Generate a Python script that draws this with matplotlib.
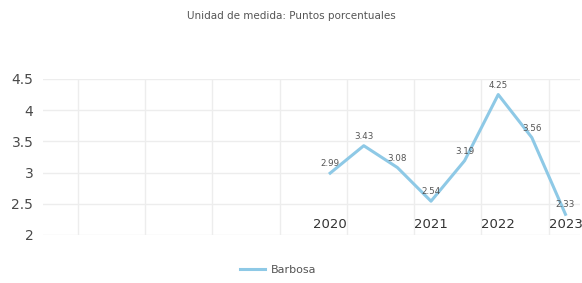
import matplotlib.pyplot as plt

# data
periods = list(range(8))
values = [2.99, 3.43, 3.08, 2.54, 3.19, 4.25, 3.56, 2.33]
value_labels = ["2.99", "3.43", "3.08", "2.54", "3.19", "4.25", "3.56", "2.33"]
year_pos = [0, 3, 5, 7]
year_labels = ["2020", "2021", "2022", "2023"]
yticks = [2, 2.5, 3, 3.5, 4, 4.5]
ytick_labels = ["2", "2.5", "3", "3.5", "4", "4.5"]
series_name = "Barbosa"

line_color = "#8ec9e6"
grid_color = "#ededed"
text_color = "#4a4a4a"

fig = plt.figure(figsize=(5.82, 2.83), dpi=100)
ax = fig.add_axes([0.074, 0.170, 0.923, 0.551])

ax.plot(periods, values, color=line_color, lw=2.2, label=series_name, zorder=3)
for x, v, s in zip(periods, values, value_labels):
    ax.annotate(s, (x, v), xytext=(0, 3.5), textcoords="offset points",
                ha="center", va="bottom", fontsize=6.3, color="#555555", zorder=4)

ax.set_xlim(-8.54, 7.44)
ax.set_ylim(2, 4.5)

# vertical grid lines sit between the points
for gx in [-7.5, -5.5, -3.5, -1.5, 0.5, 2.5, 4.5, 6.5]:
    ax.axvline(gx, color=grid_color, lw=1, zorder=1)
for gy in yticks:
    ax.axhline(gy, color=grid_color, lw=1, zorder=1)

ax.set_yticks(yticks)
ax.set_yticklabels(ytick_labels, fontsize=10, color=text_color)
ax.set_xticks(year_pos)
ax.set_xticklabels(year_labels, fontsize=9.5, color="#333333")
ax.tick_params(axis="x", length=0, pad=-12)
ax.tick_params(axis="y", length=0, pad=7)
for sp in ax.spines.values():
    sp.set_visible(False)

fig.text(0.5, 0.945, "Unidad de medida: Puntos porcentuales", ha="center",
         va="center", fontsize=7.5, color="#555555")

fig.legend(loc="center", bbox_to_anchor=(0.478, 0.045), frameon=False,
           fontsize=8, labelcolor="#555555", handlelength=2.3, handletextpad=0.5)

fig.savefig("out.png", dpi=100)
